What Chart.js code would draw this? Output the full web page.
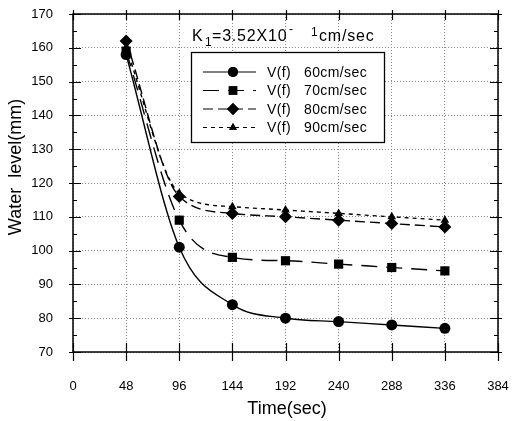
<!DOCTYPE html>
<html>
<head>
<meta charset="utf-8">
<script src="https://cdn.jsdelivr.net/npm/chart.js@4"></script>
<style>
  body { margin: 0; background: #fff; }
  #wrap { width: 512px; height: 421px; }
</style>
</head>
<body>
<div id="wrap"><canvas id="lineChart" width="512" height="421"></canvas></div>
<script>
// time (sec)
const times = [48, 96, 144, 192, 240, 288, 336];
// water level (mm) for each flow speed
const v60 = [158, 101, 84, 80, 79, 78, 77];
const v70 = [159, 109, 98, 97, 96, 95, 94];
const v80 = [162, 116, 111, 110, 109, 108, 107];
const v90 = [160, 117, 113, 112, 111, 110, 109];
const seriesLabels = ['V(f)  60cm/sec', 'V(f)  70cm/sec', 'V(f)  80cm/sec', 'V(f)  90cm/sec'];
const xTicks = [0, 48, 96, 144, 192, 240, 288, 336, 384];
const yTicks = [70, 80, 90, 100, 110, 120, 130, 140, 150, 160, 170];

const FONT = '"Liberation Sans", Arial, sans-serif';

function toPoints(vals) {
  return vals.map((v, i) => ({ x: times[i], y: v }));
}

const styles = [
  { dash: [], point: 'circle', r: 5.5 },
  { dash: [16, 9], point: 'rect', r: 6.5 },
  { dash: [10, 5], point: 'rectRot', r: 6.5 },
  { dash: [4, 4], point: 'triangle', r: 5 }
];

const allVals = [v60, v70, v80, v90];

const datasets = allVals.map((vals, i) => ({
  label: seriesLabels[i],
  data: toPoints(vals),
  borderColor: '#000',
  backgroundColor: '#000',
  borderWidth: 1.4,
  borderDash: styles[i].dash,
  pointStyle: styles[i].point,
  pointRadius: styles[i].r,
  pointBorderWidth: 0,
  cubicInterpolationMode: 'monotone',
  fill: false
}));

// frame, minor ticks, axis titles, title and the legend box
const decorations = {
  id: 'decorations',
  afterDraw(chart) {
    const ctx = chart.ctx;
    const a = chart.chartArea;
    const xs = chart.scales.x, ys = chart.scales.y;
    ctx.save();
    ctx.strokeStyle = '#000';
    ctx.lineWidth = 1.5;
    ctx.setLineDash([]);
    ctx.strokeRect(a.left, a.top, a.right - a.left, a.bottom - a.top);

    ctx.lineWidth = 1.2;
    ctx.beginPath();
    xTicks.forEach(t => {
      const px = Math.round(xs.getPixelForValue(t)) + 0.5;
      ctx.moveTo(px, a.bottom - 9); ctx.lineTo(px, a.bottom + 9);
      ctx.moveTo(px, a.top - 4); ctx.lineTo(px, a.top + 6);
    });
    for (let v = 70; v <= 170; v += 5) {
      const py = Math.round(ys.getPixelForValue(v)) + 0.5;
      const len = v % 10 === 0 ? 8 : 4;
      ctx.moveTo(a.left - (v % 10 === 0 ? 4 : 0), py); ctx.lineTo(a.left + len, py);
      ctx.moveTo(a.right - len, py); ctx.lineTo(a.right + (v % 10 === 0 ? 4 : 0), py);
    }
    ctx.stroke();

    // axis titles
    ctx.fillStyle = '#000';
    ctx.font = '18px ' + FONT;
    ctx.textAlign = 'center';
    ctx.textBaseline = 'middle';
    ctx.fillText('Time(sec)', 287, 409);
    ctx.save();
    ctx.translate(16, 167);
    ctx.rotate(-Math.PI / 2);
    ctx.fillText('Water  level(mm)', 0, 0);
    ctx.restore();

    // title inside plot
    ctx.textBaseline = 'alphabetic';
    ctx.textAlign = 'left';
    const y = 41;
    ctx.letterSpacing = '0.8px';
    ctx.font = '16px ' + FONT;
    ctx.fillText('K', 192, y);
    ctx.fillText('=3.52X10', 212, y);
    ctx.fillText('cm/sec', 319, y);
    ctx.font = '12px ' + FONT;
    ctx.fillText('1', 205, y + 5);
    ctx.fillText('-', 289, y - 8);
    ctx.fillText('1', 311, y - 5);
    ctx.letterSpacing = '0px';

    // legend box
    ctx.fillStyle = '#fff';
    ctx.fillRect(191, 52, 193, 90);
    ctx.strokeStyle = '#000';
    ctx.lineWidth = 1.3;
    ctx.strokeRect(191.5, 52.5, 193, 90);
    chart.data.datasets.forEach((ds, i) => {
      const ly = 72 + i * 18.5;
      ctx.lineWidth = 1.2;
      ctx.setLineDash(ds.borderDash);
      ctx.beginPath();
      ctx.moveTo(203, ly); ctx.lineTo(256, ly);
      ctx.stroke();
      ctx.setLineDash([]);
      ctx.fillStyle = '#000';
      Chart.helpers.drawPoint(ctx, {
        pointStyle: ds.pointStyle, radius: ds.pointRadius - 0.5, rotation: 0, borderWidth: 0
      }, 233, ly);
      ctx.fill();
      ctx.font = '14px ' + FONT;
      ctx.letterSpacing = '0.4px';
      ctx.textBaseline = 'middle';
      const parts = ds.label.split('  ');
      ctx.fillText(parts[0], 267, ly + 1);
      ctx.fillText(parts[1], 304, ly + 1);
      ctx.letterSpacing = '0px';
    });
    ctx.restore();
  }
};

new Chart(document.getElementById('lineChart'), {
  type: 'line',
  data: { datasets: datasets },
  options: {
    responsive: false,
    animation: false,
    layout: { padding: { top: 14, right: 14, left: 0, bottom: 0 } },
    plugins: { legend: { display: false }, tooltip: { enabled: false } },
    scales: {
      x: {
        type: 'linear',
        min: 0, max: 384,
        afterBuildTicks: s => { s.ticks = xTicks.map(v => ({ value: v })); },
        afterFit: s => { s.height = 69; s.paddingLeft = 0; s.paddingRight = 0; },
        ticks: { color: '#000', font: { family: FONT, size: 13 }, padding: 27, maxRotation: 0 },
        grid: { color: '#888', drawTicks: false, lineWidth: 1 },
        border: { display: false, dash: [1, 2] }
      },
      y: {
        min: 70, max: 170,
        afterBuildTicks: s => { s.ticks = yTicks.map(v => ({ value: v })); },
        afterFit: s => { s.width = 73; s.paddingTop = 0; s.paddingBottom = 0; },
        ticks: { color: '#000', font: { family: FONT, size: 13 }, padding: 20 },
        grid: { color: '#888', drawTicks: false, lineWidth: 1 },
        border: { display: false, dash: [1, 2] }
      }
    }
  },
  plugins: [decorations]
});
</script>
</body>
</html>
